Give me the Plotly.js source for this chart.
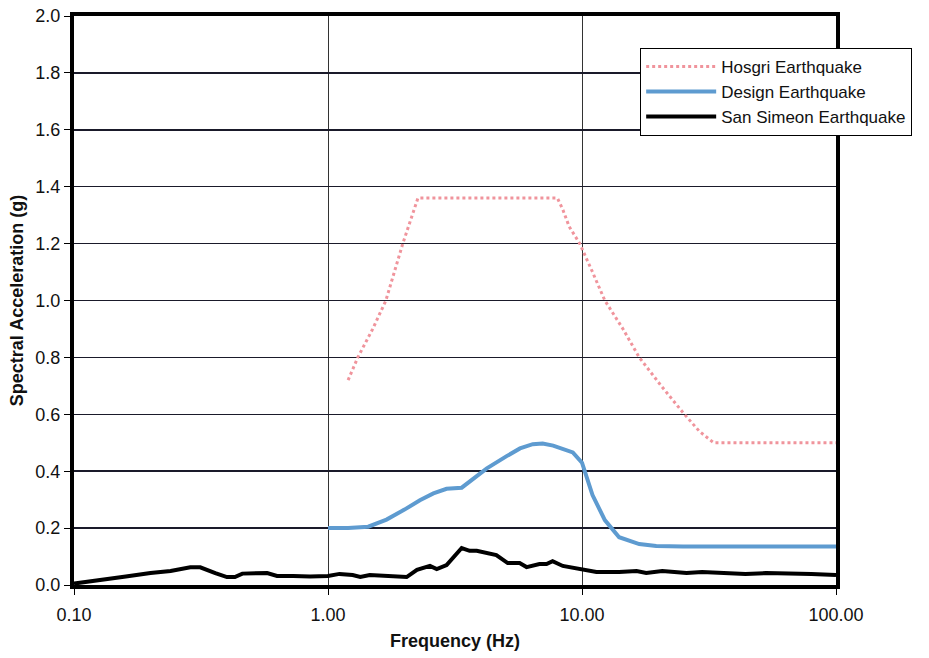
<!DOCTYPE html>
<html>
<head>
<meta charset="utf-8">
<script src="https://cdn.plot.ly/plotly-3.0.1.min.js"></script>
<style>html,body{margin:0;padding:0;background:#fff;}#chart{width:929px;height:658px;}</style>
</head>
<body>
<div id="chart"></div>
<script>
const seriesNames = ["Hosgri Earthquake", "Design Earthquake", "San Simeon Earthquake"];

const hosgriFreq = [1.2, 1.31, 1.5, 1.69, 1.97, 2.26, 8.0, 8.4, 8.9, 9.8, 11.0, 12.3, 14.5, 16.8, 20.5, 25.3, 29.0, 33.0, 100];
const hosgriAcc  = [0.72, 0.80, 0.90, 1.00, 1.20, 1.36, 1.36, 1.32, 1.26, 1.20, 1.10, 1.00, 0.90, 0.80, 0.70, 0.60, 0.54, 0.50, 0.50];

const designFreq = [1.0, 1.2, 1.44, 1.7, 2.0, 2.3, 2.6, 2.93, 3.36, 3.8, 4.22, 5.05, 5.7, 6.4, 7.0, 7.7, 8.5, 9.2, 10.0, 10.5, 11.0, 12.3, 14.0, 16.8, 19.6, 25.0, 100];
const designAcc  = [0.20, 0.20, 0.205, 0.23, 0.265, 0.298, 0.322, 0.338, 0.342, 0.38, 0.41, 0.453, 0.48, 0.495, 0.497, 0.49, 0.478, 0.466, 0.43, 0.37, 0.316, 0.228, 0.168, 0.144, 0.137, 0.135, 0.135];

const sanFreq = [0.10, 0.131, 0.16, 0.2, 0.24, 0.287, 0.314, 0.36, 0.40, 0.43, 0.46, 0.576, 0.63, 0.73, 0.85, 1.0, 1.11, 1.25, 1.34, 1.46, 1.7, 2.04, 2.24, 2.52, 2.68, 2.93, 3.36, 3.61, 3.85, 4.2, 4.6, 5.1, 5.68, 6.05, 6.8, 7.25, 7.66, 8.4, 10, 11.4, 14, 16.4, 17.9, 20.7, 25.8, 29.7, 44, 53, 80, 100];
const sanAcc  = [0.005, 0.018, 0.03, 0.042, 0.049, 0.062, 0.062, 0.042, 0.028, 0.028, 0.040, 0.042, 0.032, 0.032, 0.030, 0.032, 0.039, 0.035, 0.028, 0.035, 0.032, 0.028, 0.053, 0.067, 0.056, 0.07, 0.13, 0.12, 0.12, 0.112, 0.105, 0.077, 0.077, 0.063, 0.074, 0.074, 0.084, 0.067, 0.056, 0.046, 0.046, 0.049, 0.042, 0.049, 0.042, 0.046, 0.039, 0.042, 0.039, 0.035];

const xTickVals = [0.1, 1, 10, 100];
const xTickText = ["0.10", "1.00", "10.00", "100.00"];

const font = "Liberation Sans, Arial, sans-serif";

const traces = [
  {x: hosgriFreq, y: hosgriAcc, name: seriesNames[0], type: "scatter", mode: "lines",
   line: {color: "#f0949c", width: 3, dash: "dot"}},
  {x: designFreq, y: designAcc, name: seriesNames[1], type: "scatter", mode: "lines",
   line: {color: "#5e9bd0", width: 4}},
  {x: sanFreq, y: sanAcc, name: seriesNames[2], type: "scatter", mode: "lines",
   line: {color: "#000000", width: 4}}
];

const layout = {
  width: 929, height: 658,
  margin: {l: 74, r: 93, t: 16, b: 73},
  paper_bgcolor: "#fff", plot_bgcolor: "#fff",
  font: {family: font, color: "#111", size: 18},
  showlegend: true,
  legend: {x: 0.743, y: 0.944, xanchor: "left", yanchor: "top",
           bgcolor: "#fff", bordercolor: "#000", borderwidth: 1,
           font: {family: font, size: 17, color: "#111"},
           itemwidth: 70, tracegroupgap: 0},
  xaxis: {type: "log", range: [-1, 2], tickmode: "array", tickvals: xTickVals, ticktext: xTickText,
          showgrid: true, gridcolor: "#333", gridwidth: 1,
          showline: true, linecolor: "#000", linewidth: 4, mirror: true,
          ticks: "outside", ticklen: 6, tickcolor: "#000", tickwidth: 1,
          ticklabelstandoff: 4, automargin: false,
          tickfont: {family: font, size: 18, color: "#111"},
          title: {text: "Frequency (Hz)", font: {family: font, size: 18, color: "#111", weight: "bold"}, standoff: 12},
          zeroline: false},
  yaxis: {range: [0, 2], dtick: 0.2, tick0: 0, tickformat: ".1f",
          showgrid: true, gridcolor: "#1a1a2a", gridwidth: 1.5,
          showline: true, linecolor: "#000", linewidth: 4, mirror: true,
          ticks: "outside", ticklen: 6, tickcolor: "#000", tickwidth: 1,
          automargin: false,
          tickfont: {family: font, size: 18, color: "#111"},
          title: {text: "Spectral Acceleration (g)", font: {family: font, size: 18, color: "#111", weight: "bold"}, standoff: 8},
          zeroline: false}
};

Plotly.newPlot("chart", traces, layout, {displayModeBar: false, staticPlot: true});
</script>
</body>
</html>
